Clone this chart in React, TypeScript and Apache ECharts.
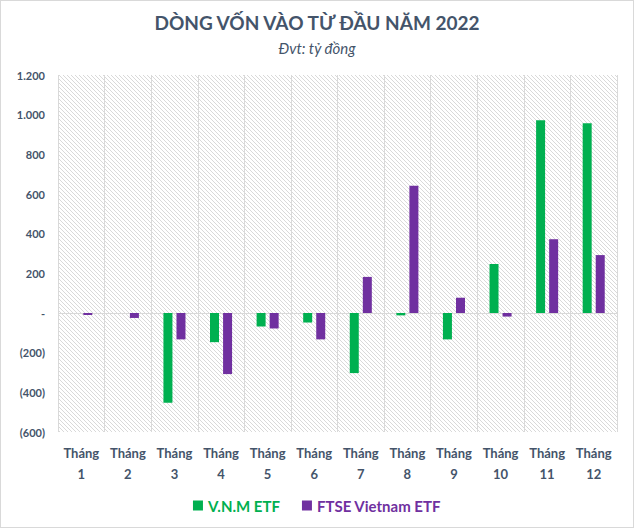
import React, { useEffect, useRef } from "react";
import * as echarts from "echarts";

const categories = ["1", "2", "3", "4", "5", "6", "7", "8", "9", "10", "11", "12"];
const vnmEtf = [0, 0, -453, -147, -68, -48, -303, -12, -133, 247, 972, 957];
const ftseEtf = [-10, -25, -133, -308, -78, -133, 182, 642, 77, -18, 372, 292];
const yTicks = [-600, -400, -200, 0, 200, 400, 600, 800, 1000, 1200];

const GREEN = "#00B050";
const PURPLE = "#7030A0";
const TEXT = "#44546A";
const FONT = "Lato, 'Open Sans', sans-serif";

function fmt(v: number): string {
  if (v === 0) return "-";
  const s = Math.abs(v).toLocaleString("de-DE");
  return v < 0 ? "(" + s + ")" : s;
}

function makeHatch(): HTMLCanvasElement {
  const c = document.createElement("canvas");
  c.width = 4;
  c.height = 4;
  const ctx = c.getContext("2d")!;
  ctx.fillStyle = "#ffffff";
  ctx.fillRect(0, 0, 4, 4);
  ctx.strokeStyle = "#d9d9d9";
  ctx.lineWidth = 1;
  ctx.beginPath();
  ctx.moveTo(0, 0);
  ctx.lineTo(4, 4);
  ctx.moveTo(-1, 3);
  ctx.lineTo(1, 5);
  ctx.moveTo(3, -1);
  ctx.lineTo(5, 1);
  ctx.stroke();
  return c;
}

export default function App() {
  const ref = useRef<HTMLDivElement>(null);
  useEffect(() => {
    document.body.style.margin = "0";
    const chart = echarts.init(ref.current!, null, { renderer: "svg" });
    chart.setOption({
      animation: false,
      backgroundColor: "#ffffff",
      title: [
        {
          text: "DÒNG VỐN VÀO TỪ ĐẦU NĂM 2022",
          left: "center",
          top: 7,
          textStyle: { fontFamily: FONT, fontSize: 19, fontWeight: "bold", color: TEXT },
        },
        {
          text: "Đvt: tỷ đồng",
          left: "center",
          top: 34,
          textStyle: { fontFamily: FONT, fontSize: 15, fontStyle: "italic", fontWeight: "normal", color: TEXT },
        },
      ],
      legend: {
        bottom: 9,
        left: "center",
        itemWidth: 10,
        itemHeight: 10,
        itemGap: 22,
        icon: "rect",
        textStyle: { fontFamily: FONT, fontSize: 15, fontWeight: "bold" },
        data: [
          { name: "V.N.M ETF", textStyle: { color: GREEN } },
          { name: "FTSE Vietnam ETF", textStyle: { color: PURPLE } },
        ],
      },
      grid: {
        left: 57,
        right: 16,
        top: 74,
        bottom: 95,
        show: true,
        borderWidth: 0,
        backgroundColor: { image: makeHatch(), repeat: "repeat" },
      },
      xAxis: {
        type: "category",
        data: categories,
        axisLine: { show: false },
        axisTick: { show: false },
        splitLine: { show: true, lineStyle: { color: "#d9d9d9", width: 1 } },
        axisLabel: {
          interval: 0,
          margin: 10,
          fontFamily: FONT,
          fontSize: 13,
          fontWeight: "bold",
          color: TEXT,
          lineHeight: 21,
          formatter: (v: string) => "Tháng\n" + v,
        },
      },
      yAxis: {
        type: "value",
        min: yTicks[0],
        max: yTicks[yTicks.length - 1],
        interval: 200,
        axisLine: { show: false },
        axisTick: { show: false },
        splitLine: { show: false },
        axisLabel: {
          margin: 13,
          fontFamily: FONT,
          fontSize: 11,
          fontWeight: "bold",
          color: TEXT,
          formatter: (v: number) => fmt(v),
        },
      },
      series: [
        {
          name: "V.N.M ETF",
          type: "bar",
          data: vnmEtf,
          barWidth: 9,
          barGap: "45%",
          itemStyle: { color: GREEN },
          markLine: {
            silent: true,
            symbol: "none",
            label: { show: false },
            lineStyle: { color: "#d9d9d9", type: "solid", width: 1 },
            data: [{ yAxis: 0 }],
            z: 1,
          },
        },
        {
          name: "FTSE Vietnam ETF",
          type: "bar",
          data: ftseEtf,
          barWidth: 9,
          itemStyle: { color: PURPLE },
        },
      ],
    });
    return () => chart.dispose();
  }, []);
  return (
    <div
      ref={ref}
      style={{ width: 632, height: 526, border: "1px solid #d9d9d9" }}
    />
  );
}
